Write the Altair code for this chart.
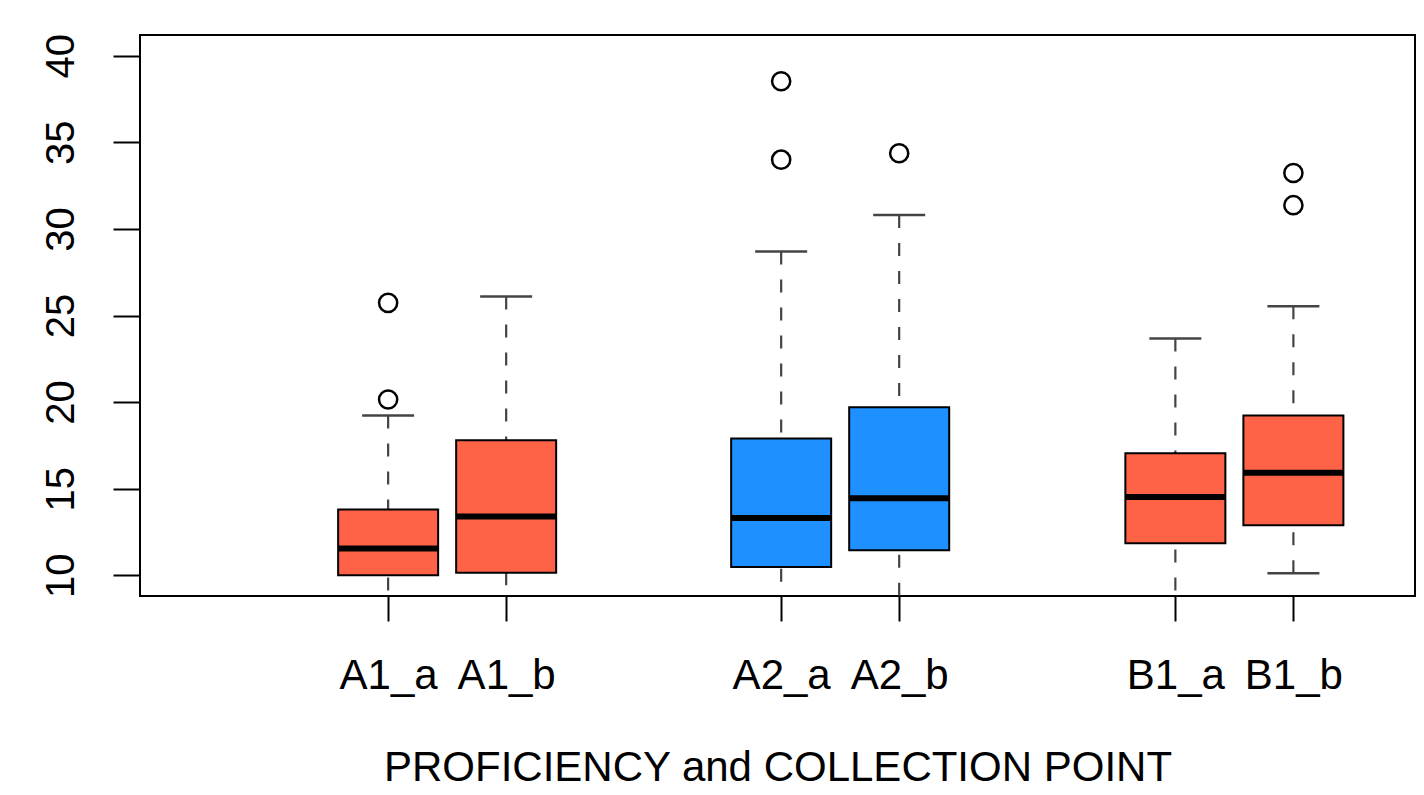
import altair as alt
import pandas as pd

# ---- data ----
names = ["A1_a", "A1_b", "A2_a", "A2_b", "B1_a", "B1_b"]
groups = ["A1", "A1", "A2", "A2", "B1", "B1"]
positions = [1, 2, 4.33, 5.33, 7.67, 8.67]
lower = [7.5, 7.8, 8.0, 7.2, 7.5, 10.12]
q1 = [10.0, 10.15, 10.47, 11.44, 11.85, 12.88]
median = [11.54, 13.39, 13.31, 14.45, 14.52, 15.92]
q3 = [13.8, 17.79, 17.89, 19.70, 17.04, 19.23]
upper = [19.23, 26.1, 28.69, 30.8, 23.67, 25.54]

out_names = ["A1_a", "A1_a", "A2_a", "A2_a", "A2_b", "B1_b", "B1_b"]
out_values = [20.15, 25.73, 34.0, 38.53, 34.37, 31.37, 33.23]

y_ticks = [10, 15, 20, 25, 30, 35, 40]

box_df = pd.DataFrame({
    "name": names, "group": groups, "pos": positions,
    "lower": lower, "q1": q1, "median": median, "q3": q3, "upper": upper,
})
pos_of = dict(zip(names, positions))
out_df = pd.DataFrame({
    "name": out_names,
    "pos": [pos_of[n] for n in out_names],
    "value": out_values,
})

FONT = "Liberation Sans"
pos_list = "[" + ",".join(str(p) for p in positions) + "]"
name_list = "[" + ",".join("'" + n + "'" for n in names) + "]"

x_scale = alt.Scale(domain=[-1.06, 9.658], nice=False, zero=False)
y_scale = alt.Scale(domain=[8.8, 41.2], nice=False, zero=False)

x_axis = alt.Axis(
    values=positions,
    labelExpr=f"{name_list}[indexof({pos_list}, datum.value)]",
    grid=False, domain=False,
    tickSize=25, tickWidth=2, tickColor="black",
    labelFont=FONT, labelFontSize=42, labelColor="black",
    labelBaseline="alphabetic", labelPadding=67, labelFlush=False,
    labelOverlap=False,
    title="PROFICIENCY and COLLECTION POINT",
    titleFont=FONT, titleFontSize=42, titleFontWeight="normal",
    titleColor="black", titleBaseline="alphabetic", titleY=184,
)
y_axis = alt.Axis(
    values=y_ticks, grid=False, domain=False,
    tickSize=27, tickWidth=2, tickColor="black",
    labelFont=FONT, labelFontSize=40, labelColor="black",
    labelAngle=270, labelAlign="center", labelBaseline="alphabetic",
    labelPadding=40, labelFlush=False, labelOverlap=False,
    title=None,
)

base = alt.Chart(box_df)
X = alt.X("pos:Q", scale=x_scale, axis=x_axis)

whisk_up = base.mark_rule(clip=True, color="#444", strokeWidth=2.2,
                          strokeDash=[13, 15]).encode(
    x=X, y=alt.Y("upper:Q", scale=y_scale, axis=y_axis), y2="q3:Q")
whisk_lo = base.mark_rule(clip=True, color="#444", strokeWidth=2.2,
                          strokeDash=[13, 15]).encode(
    x="pos:Q", y="lower:Q", y2="q1:Q")
boxes = base.mark_bar(size=100, stroke="black", strokeWidth=2, clip=True).encode(
    x="pos:Q", y="q1:Q", y2="q3:Q",
    color=alt.Color("group:N", legend=None,
                    scale=alt.Scale(domain=["A1", "A2", "B1"],
                                    range=["#FF6347", "#1E90FF", "#FF6347"])))
med = base.mark_tick(orient="horizontal", size=100, thickness=6,
                     color="black", opacity=1).encode(x="pos:Q", y="median:Q")
cap_up = base.mark_tick(orient="horizontal", size=52, thickness=2.5,
                        color="#444", opacity=1, clip=True).encode(x="pos:Q", y="upper:Q")
cap_lo = base.mark_tick(orient="horizontal", size=52, thickness=2.5,
                        color="#444", opacity=1, clip=True).encode(x="pos:Q", y="lower:Q")
outl = alt.Chart(out_df).mark_point(shape="circle", size=330, filled=False,
                                    color="black", strokeWidth=2.5, opacity=1).encode(
    x="pos:Q", y="value:Q")

chart = alt.layer(whisk_up, whisk_lo, boxes, med, cap_up, cap_lo, outl).properties(
    width=1275, height=561,
    autosize=alt.AutoSizeParams(type="none"),
    padding={"left": 132, "top": 27, "right": 1, "bottom": 193},
    background="white",
).configure_view(stroke="black", strokeWidth=2)

chart.save("out.html", embed_options={"renderer": "svg", "actions": False})
